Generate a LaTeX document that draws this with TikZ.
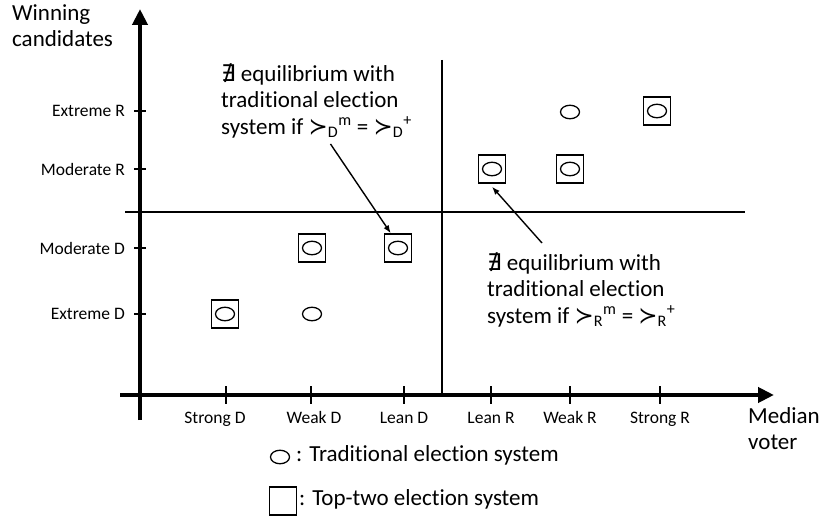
\documentclass[tikz,border=0pt]{standalone}
\usepackage{fontspec}
\setmainfont[Ligatures=NoCommon]{Carlito}
\newfontfamily\symfont{DejaVu Sans}
\usetikzlibrary{arrows.meta,shapes.geometric}

\begin{document}
\begin{tikzpicture}[x=1pt,y=-1pt,
	axis/.style={line width=4.5pt,-{Triangle[length=16pt,width=15pt]}},
	tick/.style={line width=1.5pt},
	divider/.style={line width=1.3pt},
	pointer/.style={line width=1.4pt,-{Latex[length=8pt,width=6pt]}},
	topbox/.style={draw,line width=1.5pt,minimum width=27pt,minimum height=28pt,inner sep=0pt},
	ballot/.style={draw,ellipse,line width=1.3pt,minimum width=19pt,minimum height=13.5pt,inner sep=0pt},
	bigtext/.style={font=\fontsize{23}{26.5}\selectfont,inner sep=0pt,align=left},
	smalltext/.style={font=\fontsize{17.5}{21}\selectfont,inner sep=0pt}]
	\useasboundingbox (0,0) rectangle (820,516);

	% axes
	\draw[axis] (120,395) -- (774,395);
	\draw[axis] (140,420) -- (140,9);
	\node[bigtext,anchor=north west] (ytitle) at (12,4) {Winning\\candidates};
	\node[bigtext,anchor=north west] (xtitle) at (748,407) {Median\\voter};

	\foreach \x/\lx/\lab in {226/215/Strong D,311/314/Weak D,404/404/Lean D,491/491/Lean R,570/570/Weak R,660/660/Strong R}{
		\draw[tick] (\x,386) -- (\x,404);
		\node[smalltext,anchor=base] (xl-\x) at (\lx,423) {\lab};
	}
	\foreach \y/\lab in {111/Extreme R,169/Moderate R,248/Moderate D,314/Extreme D}{
		\draw[tick] (134,\y) -- (146,\y);
		\node[smalltext,anchor=east] (yl-\y) at (125,\y) {\lab};
	}

	% quadrants
	\draw[divider] (442,60) -- (442,395);
	\draw[divider] (125,212) -- (745,212);

	% outcomes
	\foreach \n/\x/\y in {sd/225/314,wd/312/248,ld/398/248,lr/492/169,wr/570/169,sr/657/111}{
		\node[topbox] (box-\n) at (\x,\y) {};
		\node[ballot] (oval-\n) at (\x,\y) {};
	}
	\foreach \n/\x/\y in {wd/312/314,wr/570/112}
		\node[ballot] (only-\n) at (\x,\y) {};

	% notes
	\node[bigtext,anchor=north west] (noteD) at (221,63)
		{{\symfont ∄} equilibrium with\\traditional election\\system if {\symfont ≻}\textsubscript{D}\textsuperscript{m} = {\symfont ≻}\textsubscript{D}\textsuperscript{+}};
	\node[bigtext,anchor=north west] (noteR) at (487,252)
		{{\symfont ∄} equilibrium with\\traditional election\\system if {\symfont ≻}\textsubscript{R}\textsuperscript{m} = {\symfont ≻}\textsubscript{R}\textsuperscript{+}};
	\draw[pointer] ([xshift=14pt,yshift=-6pt]noteD.south) -- ([xshift=7pt]box-ld.north west);
	\draw[pointer] ([xshift=55pt,yshift=9pt]noteR.north west) -- ([yshift=-3pt]box-lr.south);

	% legend
	\node[ballot] (key-oval) at (280,457) {};
	\node[bigtext,anchor=west] (key-trad) at (296,455) {: Traditional election system};
	\node[topbox] (key-box) at (283,501) {};
	\node[bigtext,anchor=west] (key-top) at (299,499) {: Top-two election system};
\end{tikzpicture}
\end{document}
